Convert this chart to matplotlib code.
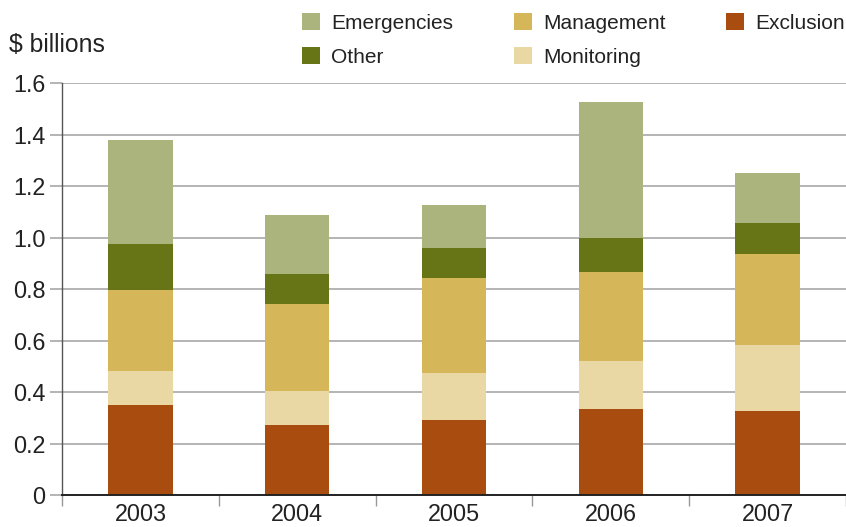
import numpy as np
import matplotlib
matplotlib.use("Agg")
import matplotlib.pyplot as plt

plt.rcParams['font.family'] = ['Liberation Sans', 'DejaVu Sans']

years = ['2003', '2004', '2005', '2006', '2007']

# $ billions, stacked bottom to top
exclusion = [0.350, 0.270, 0.290, 0.335, 0.325]
monitoring = [0.132, 0.134, 0.184, 0.186, 0.258]
management = [0.314, 0.338, 0.369, 0.346, 0.353]
other = [0.179, 0.116, 0.116, 0.132, 0.120]
emergencies = [0.404, 0.229, 0.167, 0.527, 0.194]

series = [
    ('Exclusion', exclusion, '#a84c10'),
    ('Monitoring', monitoring, '#e9d7a4'),
    ('Management', management, '#d5b75a'),
    ('Other', other, '#687517'),
    ('Emergencies', emergencies, '#abb47d'),
]

fig = plt.figure(figsize=(8.46, 5.27), dpi=100)
ax = fig.add_axes([0.0733, 0.0607, 0.9267, 0.7818])

x = np.arange(len(years))
bottom = np.zeros(len(years))
handles = {}
for name, vals, color in series:
    b = ax.bar(x, vals, width=0.41, bottom=bottom, color=color, zorder=3, label=name)
    handles[name] = b
    bottom += np.array(vals)

ax.set_xlim(-0.5, len(years) - 0.5)
ax.set_ylim(0, 1.6)
ax.set_yticks(np.arange(0, 1.61, 0.2))
ax.set_yticklabels(['0'] + ['%.1f' % v for v in np.arange(0.2, 1.61, 0.2)])
ax.yaxis.grid(True, color='#a8a8a8', linewidth=1.2, zorder=0)

ax.set_xticks(x)
ax.set_xticklabels(years)
ax.set_xticks(np.arange(-0.5, len(years)), minor=True)
ax.tick_params(axis='x', which='major', length=0, pad=6, labelsize=16.8, labelcolor='#222222')
ax.tick_params(axis='x', which='minor', length=8, width=1, color='#999999')
ax.tick_params(axis='y', length=9, width=1.2, color='#a8a8a8', pad=3,
               labelsize=16.8, labelcolor='#222222')

for s in ['top', 'right']:
    ax.spines[s].set_visible(False)
ax.spines['left'].set_color('#555555')
ax.spines['left'].set_linewidth(1)
ax.spines['bottom'].set_color('#222222')
ax.spines['bottom'].set_linewidth(1.4)
ax.spines['bottom'].set_zorder(4)

fig.text(0.011, 0.9015, '$ billions', fontsize=17.8, color='#222222', va='baseline')

order = ['Emergencies', 'Other', 'Management', 'Monitoring', 'Exclusion']
fig.legend([handles[n] for n in order], order, ncol=3, loc='upper left',
           bbox_to_anchor=(0.357, 0.9745), frameon=False, fontsize=15,
           handlelength=0.85, handleheight=0.85, handletextpad=0.56,
           columnspacing=2.9, labelspacing=0.69, labelcolor='#222222',
           borderaxespad=0, borderpad=0)

fig.savefig('out.png', dpi=100)
